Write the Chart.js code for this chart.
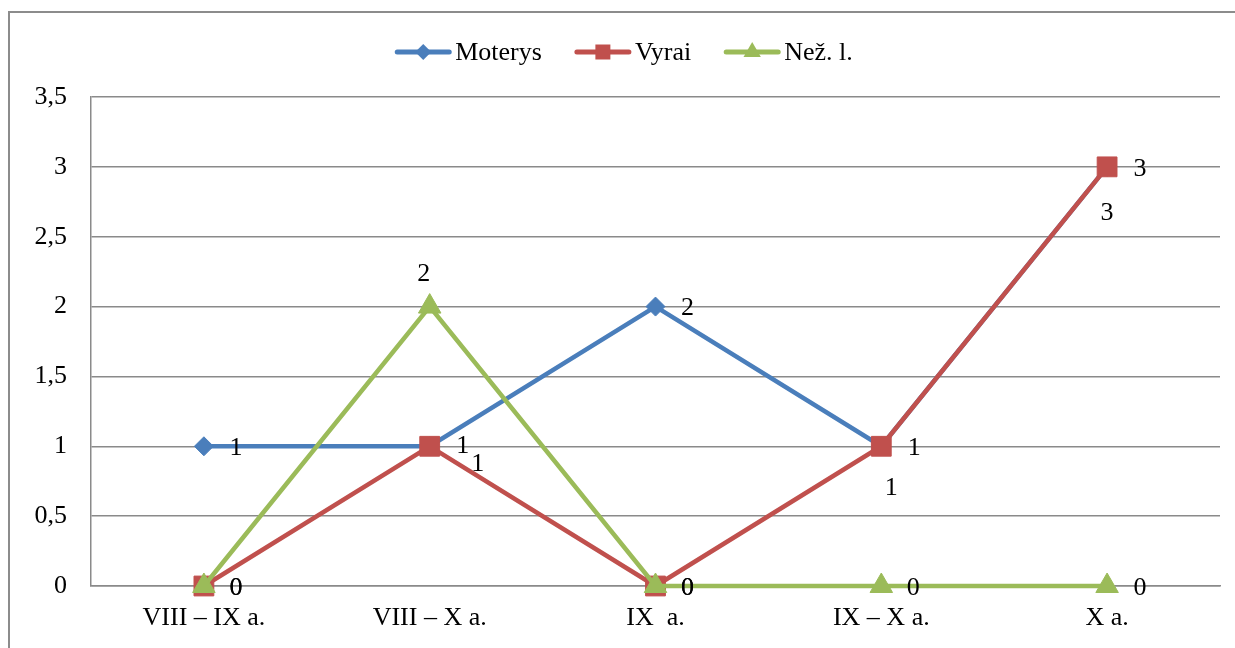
<!DOCTYPE html>
<html>
<head>
<meta charset="utf-8">
<script src="https://cdn.jsdelivr.net/npm/chart.js@4.4.1/dist/chart.umd.min.js"></script>
<style>
  html, body { margin: 0; padding: 0; background: #fff; }
  #wrap { position: relative; width: 1235px; height: 648px; overflow: hidden; }
  #frame { position: absolute; left: 8px; top: 11px; width: 1400px; height: 700px; border: 2px solid #8c8c8c; box-sizing: border-box; pointer-events: none; }
  canvas { position: absolute; left: 0; top: 0; }
</style>
</head>
<body>
<div id="wrap">
  <canvas id="c" width="1235" height="648"></canvas>
  <div id="frame"></div>
</div>
<script>
const categories = ['VIII – IX a.', 'VIII – X a.', 'IX  a.', 'IX – X a.', 'X a.'];
const seriesNames = ['Moterys', 'Vyrai', 'Než. l.'];
const moterys = [1, 1, 2, 1, 3];
const vyrai = [0, 1, 0, 1, 3];
const nezl = [0, 2, 0, 0, 0];
const yTickLabels = ['0', '0,5', '1', '1,5', '2', '2,5', '3', '3,5'];

const FONT = '"Liberation Serif", "Times New Roman", serif';
const colors = ['#4A7EBB', '#C0504D', '#9BBB59'];
const styles = ['rectRot', 'rect', 'triangle'];
const radii = [9.5, 14, 13];

// label offsets (dx, dy) relative to each point, per series
const labelOffsets = [
  [[32, 2], [33, 0], [32, 2], [33, 2], [33, 2]],
  [[32, 2], [48, 18], [32, 2], [10, 42], [0, 46]],
  [[32, 2], [-6, -32], [32, 2], [32, 2], [33, 2]]
];

const valueLabels = {
  id: 'valueLabels',
  afterDatasetsDraw(chart) {
    const ctx = chart.ctx;
    ctx.save();
    ctx.font = '26px ' + FONT;
    ctx.fillStyle = '#000';
    ctx.textAlign = 'center';
    ctx.textBaseline = 'middle';
    chart.data.datasets.forEach((ds, di) => {
      const meta = chart.getDatasetMeta(di);
      meta.data.forEach((pt, i) => {
        const off = labelOffsets[di][i];
        ctx.fillText(String(ds.data[i]), pt.x + off[0], pt.y + off[1]);
      });
    });
    ctx.restore();
  }
};

const customLegend = {
  id: 'customLegend',
  afterDraw(chart) {
    const ctx = chart.ctx;
    ctx.save();
    ctx.font = '26px ' + FONT;
    const lineLen = 56, gap = 4, itemGap = 33;
    const widths = seriesNames.map(n => lineLen + gap + ctx.measureText(n).width);
    const total = widths.reduce((a, b) => a + b, 0) + itemGap * (seriesNames.length - 1);
    let x = 624 - total / 2;
    const y = 52;
    seriesNames.forEach((n, i) => {
      ctx.strokeStyle = colors[i];
      ctx.lineWidth = 5;
      ctx.lineCap = 'round';
      ctx.beginPath();
      ctx.moveTo(x + 2, y);
      ctx.lineTo(x + lineLen - 2, y);
      ctx.stroke();
      ctx.fillStyle = colors[i];
      ctx.beginPath();
      const cx = x + lineLen / 2;
      if (styles[i] === 'rectRot') {
        const r = 8;
        ctx.moveTo(cx, y - r); ctx.lineTo(cx + r, y);
        ctx.lineTo(cx, y + r); ctx.lineTo(cx - r, y); ctx.closePath();
      } else if (styles[i] === 'rect') {
        const s = 7.5;
        ctx.rect(cx - s, y - s, 2 * s, 2 * s);
      } else {
        const r = 10;
        ctx.moveTo(cx, y - r); ctx.lineTo(cx + r * 0.866, y + r / 2); ctx.lineTo(cx - r * 0.866, y + r / 2); ctx.closePath();
      }
      ctx.fill();
      ctx.fillStyle = '#000';
      ctx.textAlign = 'left';
      ctx.textBaseline = 'middle';
      ctx.fillText(n, x + lineLen + gap, y + 1);
      x += widths[i] + itemGap;
    });
    ctx.restore();
  }
};

const dataSeries = [moterys, vyrai, nezl];
const datasets = dataSeries.map((d, i) => ({
  label: seriesNames[i],
  data: d,
  borderColor: colors[i],
  backgroundColor: colors[i],
  borderWidth: 4.5,
  pointStyle: styles[i],
  pointRadius: radii[i],
  pointHoverRadius: radii[i],
  pointBorderWidth: 1,
  pointBackgroundColor: colors[i],
  pointBorderColor: colors[i],
  tension: 0,
  clip: false,
  order: 3 - i
}));

new Chart(document.getElementById('c'), {
  type: 'line',
  data: { labels: categories, datasets },
  options: {
    responsive: false,
    animation: false,
    events: [],
    layout: { padding: { top: 97, right: 14, left: 0, bottom: 0 } },
    plugins: { legend: { display: false }, tooltip: { enabled: false } },
    scales: {
      x: {
        offset: true,
        grid: { display: false, drawTicks: false },
        border: { display: true, color: '#8a8a8a', width: 1.5 },
        ticks: { font: { family: FONT, size: 26 }, color: '#000', padding: 17, maxRotation: 0, autoSkip: false },
        afterFit(scale) { scale.height = 62; }
      },
      y: {
        min: 0, max: 3.5,
        grid: { color: '#8a8a8a', lineWidth: 1.5, drawTicks: false },
        border: { display: true, color: '#8a8a8a', width: 1.5 },
        ticks: {
          stepSize: 0.5,
          font: { family: FONT, size: 26 },
          color: '#000',
          padding: 24,
          callback: (v, i) => yTickLabels[i]
        },
        afterFit(scale) { scale.width = 91; }
      }
    }
  },
  plugins: [valueLabels, customLegend]
});
</script>
</body>
</html>
